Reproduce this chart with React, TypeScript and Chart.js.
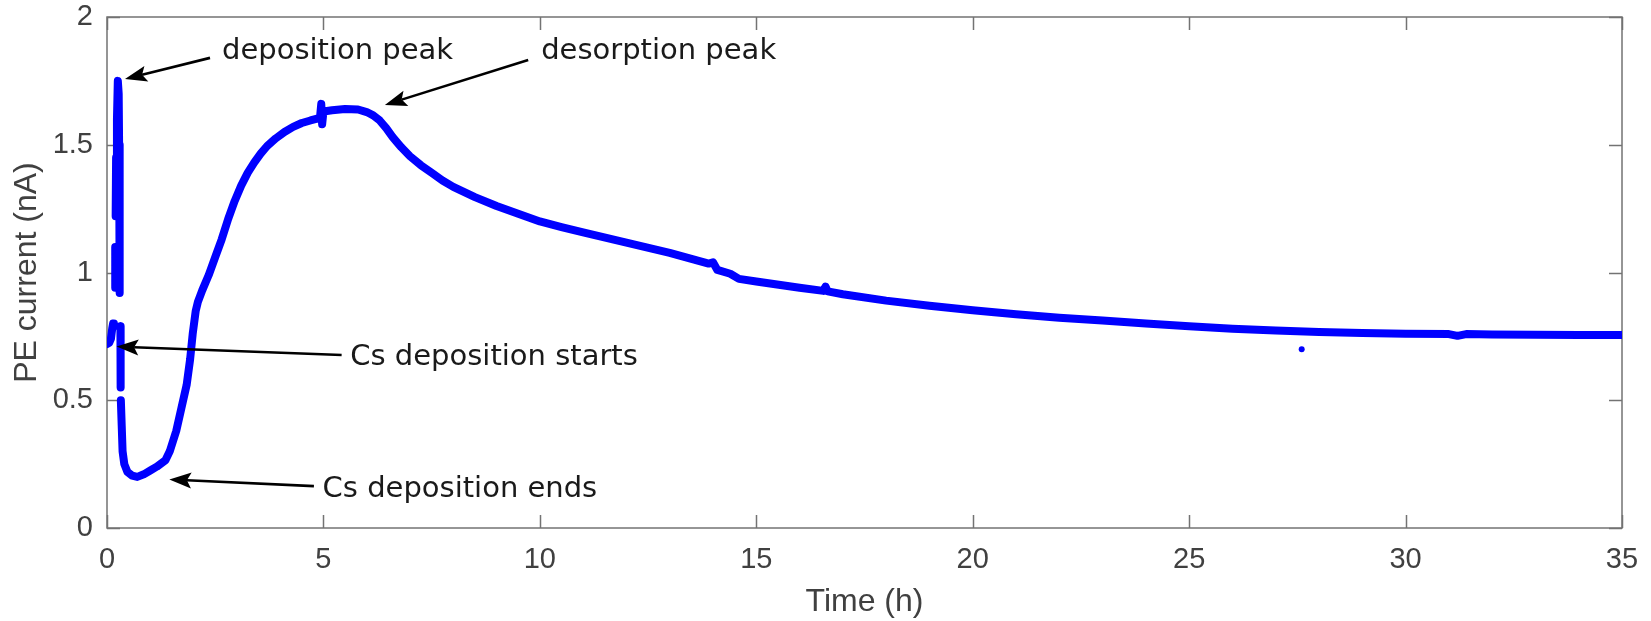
import React, { useEffect, useRef } from "react";
import { Chart, registerables } from "chart.js";

Chart.register(...registerables);

// ---- data (time in hours, PE current in nA); null = gap in the trace ----
const timeH: number[] = [
  0.0, 0.05, 0.09, 0.12, 0.14, 0.16,
  0.17,
  0.19, 0.19,
  0.195,
  0.2, 0.21, 0.23, 0.25, 0.27, 0.28, 0.28, 0.29, 0.3, 0.3,
  0.305,
  0.31, 0.31, 0.32,
  0.32,
  0.32, 0.34, 0.36, 0.4, 0.47, 0.58, 0.7, 0.85, 1.0, 1.15, 1.35, 1.45, 1.6, 1.72, 1.84, 1.92, 1.98,
  2.05, 2.1, 2.2, 2.35, 2.5, 2.65, 2.8, 2.95, 3.1, 3.25, 3.4, 3.55, 3.7, 3.9, 4.1, 4.3, 4.5, 4.7,
  4.92, 4.95, 4.97, 5.0, 5.2, 5.5, 5.8, 6.0, 6.15, 6.3, 6.45, 6.6, 6.8, 7.0, 7.25, 7.5, 7.75, 8.0,
  8.5, 9.0, 9.5, 10.0, 10.5, 11.0, 12.0, 13.0,
  13.9, 14.0, 14.1, 14.4, 14.6, 15.0, 16.0, 16.55, 16.6, 16.65, 17.0, 18.0, 19.0, 20.0, 21.0, 22.0,
  23.0, 24.0, 25.0, 26.0, 27.0, 28.0, 29.0, 30.0, 31.0, 31.2, 31.4, 32.0, 33.0, 34.0, 35.0,
];
const currentNA: (number | null)[] = [
  0.72, 0.725, 0.74, 0.78, 0.8, 0.79,
  null,
  0.94, 1.1,
  null,
  1.22, 1.45, 1.6, 1.75, 1.7, 1.5, 1.3, 1.2, 1.05, 0.92,
  null,
  0.79, 0.66, 0.55,
  null,
  0.5, 0.4, 0.3, 0.25, 0.22, 0.205, 0.2, 0.21, 0.225, 0.24, 0.265, 0.3, 0.38, 0.47, 0.56, 0.66, 0.76,
  0.85, 0.885, 0.93, 0.99, 1.06, 1.13, 1.21, 1.28, 1.34, 1.39, 1.43, 1.465, 1.495, 1.525, 1.55, 1.57, 1.585, 1.595,
  1.605, 1.66, 1.58, 1.63, 1.635, 1.64, 1.638, 1.628, 1.615, 1.595, 1.565, 1.53, 1.49, 1.455, 1.42, 1.39, 1.36, 1.335,
  1.295, 1.26, 1.23, 1.2, 1.178, 1.157, 1.117, 1.077,
  1.035, 1.04, 1.01, 0.995, 0.975, 0.965, 0.94, 0.928, 0.945, 0.926, 0.915, 0.89, 0.87, 0.852, 0.837, 0.823,
  0.812, 0.8, 0.79, 0.78, 0.773, 0.767, 0.763, 0.76, 0.759, 0.752, 0.759, 0.757, 0.756, 0.755, 0.755,
];
const outlierTimeH: number[] = [27.6];
const outlierCurrentNA: number[] = [0.7];

const xTicks: number[] = [0, 5, 10, 15, 20, 25, 30, 35];
const yTicks: number[] = [0, 0.5, 1, 1.5, 2];

// ---- annotations (data coordinates) ----
const noteText: string[] = ["deposition peak", "desorption peak", "Cs deposition starts", "Cs deposition ends"];
const noteX: number[] = [2.657, 10.03, 5.62, 4.98];
const noteY: number[] = [1.836, 1.836, 0.638, 0.121];
const arrowTailX: number[] = [2.38, 9.73, 5.42, 4.78];
const arrowTailY: number[] = [1.84, 1.832, 0.677, 0.164];
const arrowHeadX: number[] = [0.416, 6.42, 0.22, 1.44];
const arrowHeadY: number[] = [1.757, 1.656, 0.71, 0.19];

const AXIS_COLOR = "#737373";
const TEXT_COLOR = "#404040";

const boxPlugin = {
  id: "matlabBox",
  beforeDatasetsDraw(chart: any) {
    const { ctx, chartArea, scales } = chart;
    const { left, right, top, bottom } = chartArea;
    const tl = 13;
    ctx.save();
    ctx.strokeStyle = AXIS_COLOR;
    ctx.lineWidth = 1.5;
    ctx.beginPath();
    for (const v of xTicks) {
      const px = Math.round(scales.x.getPixelForValue(v)) + 0.5;
      ctx.moveTo(px, bottom);
      ctx.lineTo(px, bottom - tl);
      ctx.moveTo(px, top);
      ctx.lineTo(px, top + tl);
    }
    for (const v of yTicks) {
      const py = Math.round(scales.y.getPixelForValue(v)) + 0.5;
      ctx.moveTo(left, py);
      ctx.lineTo(left + tl, py);
      ctx.moveTo(right, py);
      ctx.lineTo(right - tl, py);
    }
    ctx.stroke();
    ctx.strokeRect(left, top, right - left, bottom - top);
    ctx.restore();
  },
  afterDatasetsDraw(chart: any) {
    const { ctx, scales } = chart;
    ctx.save();
    ctx.fillStyle = "#1a1a1a";
    ctx.font = "29px 'DejaVu Sans', Verdana, sans-serif";
    ctx.textAlign = "left";
    ctx.textBaseline = "alphabetic";
    noteText.forEach((t, i) => {
      ctx.fillText(t, scales.x.getPixelForValue(noteX[i]), scales.y.getPixelForValue(noteY[i]));
    });
    ctx.strokeStyle = "#000";
    ctx.fillStyle = "#000";
    ctx.lineWidth = 2.6;
    for (let i = 0; i < arrowTailX.length; i++) {
      const x0 = scales.x.getPixelForValue(arrowTailX[i]);
      const y0 = scales.y.getPixelForValue(arrowTailY[i]);
      const x1 = scales.x.getPixelForValue(arrowHeadX[i]);
      const y1 = scales.y.getPixelForValue(arrowHeadY[i]);
      const ang = Math.atan2(y1 - y0, x1 - x0);
      const hl = 22;
      const hw = 8;
      const bx = x1 - hl * Math.cos(ang);
      const by = y1 - hl * Math.sin(ang);
      const cx = x1 - hl * 0.8 * Math.cos(ang);
      const cy = y1 - hl * 0.8 * Math.sin(ang);
      ctx.beginPath();
      ctx.moveTo(x0, y0);
      ctx.lineTo(cx, cy);
      ctx.stroke();
      ctx.beginPath();
      ctx.moveTo(x1, y1);
      ctx.lineTo(bx + hw * Math.sin(ang), by - hw * Math.cos(ang));
      ctx.lineTo(cx, cy);
      ctx.lineTo(bx - hw * Math.sin(ang), by + hw * Math.cos(ang));
      ctx.closePath();
      ctx.fill();
    }
    ctx.restore();
  },
};

export default function App() {
  const canvasRef = useRef<HTMLCanvasElement | null>(null);

  useEffect(() => {
    if (!canvasRef.current) return;
    const mainData = timeH.map((t, i) => ({ x: t, y: currentNA[i] }));
    const outlierData = outlierTimeH.map((t, i) => ({ x: t, y: outlierCurrentNA[i] }));
    const tickFont = { family: "'Liberation Sans', Arial, Helvetica, sans-serif", size: 29 };
    const titleFont = { family: "'Liberation Sans', Arial, Helvetica, sans-serif", size: 32 };

    const chart = new Chart(canvasRef.current, {
      type: "scatter",
      data: {
        datasets: [
          {
            data: mainData as any,
            showLine: true,
            spanGaps: false,
            borderColor: "#0000ff",
            backgroundColor: "#0000ff",
            borderWidth: 8,
            borderCapStyle: "round",
            borderJoinStyle: "round",
            pointRadius: 0,
            tension: 0,
          } as any,
          {
            data: outlierData as any,
            showLine: false,
            pointRadius: 3,
            pointBorderWidth: 0,
            backgroundColor: "#0000ff",
            borderColor: "#0000ff",
          } as any,
        ],
      },
      options: {
        animation: false,
        responsive: true,
        maintainAspectRatio: false,
        layout: { padding: { left: 0, right: 29, top: 17, bottom: 0 } },
        plugins: {
          legend: { display: false },
          tooltip: { enabled: false },
          title: { display: false },
        },
        scales: {
          x: {
            type: "linear",
            min: 0,
            max: 35,
            afterBuildTicks: (scale: any) => {
              scale.ticks = xTicks.map((v) => ({ value: v }));
            },
            afterFit: (scale: any) => {
              scale.height = 93;
              scale.paddingLeft = 0;
              scale.paddingRight = 0;
              scale.paddingTop = 0;
              scale.paddingBottom = 0;
            },
            grid: { display: false, drawTicks: false },
            border: { display: false },
            ticks: {
              color: TEXT_COLOR,
              font: tickFont,
              padding: 15,
              maxRotation: 0,
              autoSkip: false,
              callback: (v: any) => String(v),
            },
            title: {
              display: true,
              text: "Time (h)",
              color: TEXT_COLOR,
              font: titleFont,
              padding: { top: 0, bottom: 0 },
            },
          },
          y: {
            type: "linear",
            min: 0,
            max: 2,
            afterBuildTicks: (scale: any) => {
              scale.ticks = yTicks.map((v) => ({ value: v }));
            },
            afterFit: (scale: any) => {
              scale.width = 107;
              scale.paddingLeft = 0;
              scale.paddingRight = 0;
              scale.paddingTop = 0;
              scale.paddingBottom = 0;
            },
            grid: { display: false, drawTicks: false },
            border: { display: false },
            ticks: {
              color: TEXT_COLOR,
              font: tickFont,
              padding: 14,
              autoSkip: false,
              callback: (v: any) => String(v),
            },
            title: {
              display: true,
              text: "PE current (nA)",
              color: TEXT_COLOR,
              font: titleFont,
              padding: { top: 8, bottom: 0 },
            },
          },
        },
      },
      plugins: [boxPlugin],
    });
    return () => chart.destroy();
  }, []);

  return (
    <div style={{ position: "fixed", left: 0, top: 0, width: 1651, height: 621, background: "#fff" }}>
      <canvas ref={canvasRef} />
    </div>
  );
}
